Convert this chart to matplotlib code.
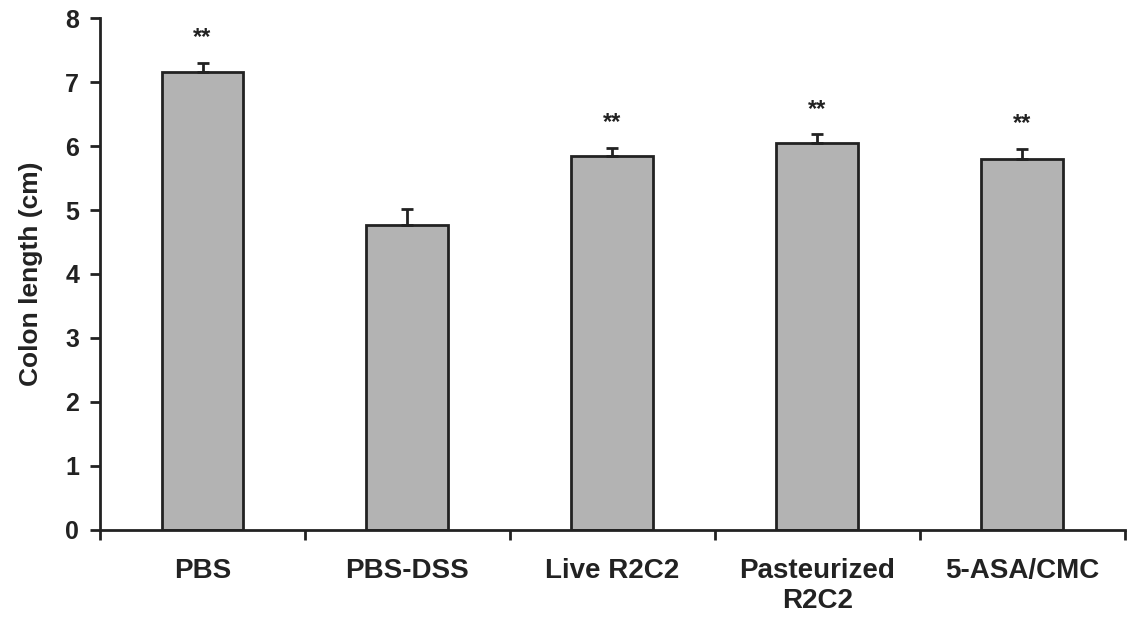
import numpy as np
import matplotlib
matplotlib.use("Agg")
from matplotlib import pyplot as plt
from matplotlib.ticker import FixedLocator

groups = ["PBS", "PBS-DSS", "Live R2C2", "Pasteurized\nR2C2", "5-ASA/CMC"]
colon_length = [7.16, 4.77, 5.84, 6.04, 5.79]
sem = [0.14, 0.24, 0.13, 0.14, 0.16]
stars = ["**", "", "**", "**", "**"]

plt.rcParams['font.family'] = ['Liberation Sans', 'DejaVu Sans']
plt.rcParams['font.weight'] = 'bold'

fig = plt.figure(figsize=(11.28, 6.22), dpi=100)
ax = fig.add_axes([0.0887, 0.148, 0.9083, 0.823])

x = np.arange(len(groups))
ax.bar(x, colon_length, width=0.4, color='#b3b3b3', edgecolor='#222222',
       linewidth=2, zorder=2)
ax.errorbar(x, colon_length, yerr=[np.zeros(len(sem)), sem], fmt='none',
            ecolor='#222222', elinewidth=2, capsize=4, capthick=2, zorder=3)

# significance marks above the error bars
for xi, v, e, s in zip(x, colon_length, sem, stars):
    if s:
        ax.annotate(s, (xi, v + e), xytext=(0, 10), textcoords='offset points',
                    ha='center', va='bottom', fontsize=17, fontweight='bold',
                    color='#222222')

ax.set_xlim(-0.5, 4.5)
ax.set_ylim(0, 8)
ax.set_yticks(range(0, 9))
ax.tick_params(axis='y', labelsize=18, width=2, length=7, color='#222222',
               labelcolor='#222222', pad=8)
ax.set_xticks(x)
ax.set_xticklabels(groups, fontsize=20, fontweight='bold', color='#222222')
ax.tick_params(axis='x', which='major', length=0, pad=20)
ax.xaxis.set_minor_locator(FixedLocator(np.arange(-0.5, 5, 1)))
ax.tick_params(axis='x', which='minor', length=7, width=2, color='#222222')

for side in ['top', 'right']:
    ax.spines[side].set_visible(False)
for side in ['left', 'bottom']:
    ax.spines[side].set_linewidth(2)
    ax.spines[side].set_color('#222222')

ax.set_ylabel("Colon length (cm)", fontsize=19, fontweight='bold',
              color='#222222', labelpad=16)

fig.savefig("out.png", dpi=100)
